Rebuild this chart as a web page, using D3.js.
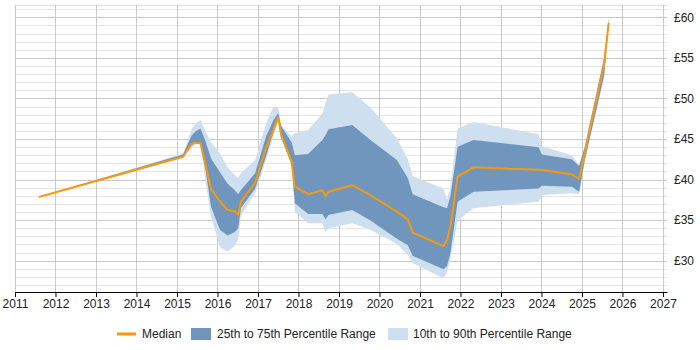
<!DOCTYPE html>
<html>
<head>
<meta charset="utf-8">
<script src="https://cdn.jsdelivr.net/npm/d3@7"></script>
<style>
  body { margin: 0; background: #fff; }
  svg { display: block; font-family: "Liberation Sans", Arial, sans-serif; }
</style>
</head>
<body>
<svg id="chart" width="700" height="350"></svg>
<script>
// decimal year of each sample
const dates = [2011.59, 2015.15, 2015.36, 2015.45, 2015.58, 2015.7, 2015.84, 2016.06, 2016.25, 2016.42,
  2016.51, 2016.58, 2016.93, 2017.2, 2017.38, 2017.5, 2017.57, 2017.83, 2017.91, 2018.24,
  2018.59, 2018.67, 2018.74, 2019.33, 2019.77, 2020.43, 2020.7, 2020.82, 2021.58, 2021.67,
  2021.75, 2021.93, 2022.32, 2023.93, 2024.01, 2024.75, 2024.93, 2025.07, 2025.55, 2025.66];
const p10 = [37.85, 42.8, 43.8, 44.3, 44.4, 40.0, 35.4, 31.7, 31.1, 31.8,
  32.6, 35.5, 38.3, 42.4, 45.3, 47.2, 45.1, 41.8, 36.04, 34.6,
  34.6, 33.57, 34.0, 34.6, 33.8, 32.1, 30.7, 29.7, 27.83, 28.6,
  30.2, 35.0, 36.46, 37.27, 38.1, 38.3, 38.2, 42.2, 52.6, 59.2];
const p25 = [37.85, 42.8, 44.2, 44.5, 44.47, 41.4, 36.65, 33.8, 33.1, 33.5,
  34.0, 36.5, 38.9, 42.9, 45.8, 47.5, 45.3, 41.9, 37.07, 35.75,
  35.75, 35.1, 35.63, 36.25, 35.0, 32.7, 31.9, 30.6, 28.94, 29.35,
  30.9, 37.27, 38.5, 38.9, 39.24, 39.1, 38.5, 42.4, 52.9, 59.2];
const median = [37.85, 42.82, 44.4, 44.55, 44.47, 41.9, 38.9, 37.3, 36.25, 36.1,
  35.65, 37.27, 39.61, 43.9, 46.1, 47.67, 45.5, 42.2, 39.12, 38.2,
  38.68, 37.97, 38.5, 39.3, 38.1, 36.04, 35.1, 33.45, 31.8, 32.55,
  34.2, 40.35, 41.51, 41.2, 41.18, 40.65, 40.07, 43.24, 54.3, 59.3];
const p75 = [37.85, 43.1, 45.4, 45.9, 46.3, 44.8, 42.6, 40.9, 39.5, 38.7,
  38.2, 38.7, 40.77, 45.3, 47.3, 48.2, 46.6, 44.6, 43.0, 43.15,
  44.88, 45.5, 46.2, 46.73, 44.9, 42.4, 40.15, 38.2, 36.6, 36.46,
  37.9, 44.05, 44.88, 43.98, 43.1, 42.5, 41.67, 44.0, 55.0, 59.8];
const p90 = [37.85, 43.2, 46.2, 46.9, 47.35, 46.0, 44.6, 43.2, 41.5, 40.6,
  40.2, 40.8, 42.4, 46.9, 48.98, 48.98, 46.7, 45.3, 45.7, 46.1,
  48.16, 49.4, 50.5, 50.75, 48.9, 45.1, 42.5, 40.4, 38.9, 37.5,
  39.0, 46.3, 47.1, 45.6, 44.1, 43.0, 41.8, 44.2, 55.3, 60.0];

const yearTicks = d3.range(2011, 2028);
const majorTicks = [30, 35, 40, 45, 50, 55, 60];
const minorTicks = d3.range(27, 62);

const rows = dates.map((d, i) => ({
  date: d, p10: p10[i], p25: p25[i], median: median[i], p75: p75[i], p90: p90[i]
}));

const svg = d3.select("#chart");
const plotLeft = 15, plotRight = 667, plotTop = 5, plotBottom = 292;

const x = d3.scaleLinear().domain([2011, 2027.1]).range([plotLeft, plotRight]);
const y = d3.scaleLinear().domain([26.14, 61.52]).range([plotBottom, plotTop]);

// grid
const grid = svg.append("g");
grid.selectAll(".minor").data(minorTicks).enter().append("line")
  .attr("x1", plotLeft).attr("x2", plotRight)
  .attr("y1", d => Math.round(y(d)) + 0.5).attr("y2", d => Math.round(y(d)) + 0.5)
  .attr("stroke", "#e6e6e6").attr("stroke-width", 1);
grid.append("line")
  .attr("x1", plotLeft).attr("x2", plotRight)
  .attr("y1", plotTop + 0.5).attr("y2", plotTop + 0.5)
  .attr("stroke", "#dcdcdc").attr("stroke-width", 1);
grid.selectAll(".major").data(majorTicks).enter().append("line")
  .attr("x1", plotLeft).attr("x2", plotRight)
  .attr("y1", d => Math.round(y(d)) + 0.5).attr("y2", d => Math.round(y(d)) + 0.5)
  .attr("stroke", "#c8c8c8").attr("stroke-width", 1);
grid.selectAll(".vert").data(yearTicks).enter().append("line")
  .attr("x1", d => Math.round(x(d)) + 0.5).attr("x2", d => Math.round(x(d)) + 0.5)
  .attr("y1", plotTop).attr("y2", plotBottom)
  .attr("stroke", "#c8c8c8").attr("stroke-width", 1);

// bands
const band = (lo, hi) => d3.area()
  .x(d => x(d.date)).y0(d => y(d[lo])).y1(d => y(d[hi]));

svg.append("path").datum(rows)
  .attr("d", band("p10", "p90"))
  .attr("fill", "#cedff0");
svg.append("path").datum(rows)
  .attr("d", band("p25", "p75"))
  .attr("fill", "#7096bd");

// median
svg.append("path").datum(rows)
  .attr("d", d3.line().x(d => x(d.date)).y(d => y(d.median)))
  .attr("fill", "none")
  .attr("stroke", "#f7990c")
  .attr("stroke-width", 2)
  .attr("stroke-linejoin", "round");

// x axis
const xAxis = svg.append("g")
  .attr("transform", `translate(0,${plotBottom})`)
  .call(d3.axisBottom(x).tickValues(yearTicks).tickFormat(d3.format("d")).tickSize(5).tickSizeOuter(0));
xAxis.select(".domain").attr("stroke", "#000");
xAxis.selectAll(".tick line").attr("stroke", "#000");
xAxis.selectAll("text").attr("fill", "#222").style("font-size", "12px").attr("y", 7);

// y labels on the right
svg.append("g").selectAll("text").data(majorTicks).enter().append("text")
  .attr("x", 674).attr("y", d => y(d)).attr("dy", "0.35em")
  .attr("fill", "#222").style("font-size", "12px")
  .text(d => "£" + d);

// legend
const legend = svg.append("g");
legend.append("line")
  .attr("x1", 117).attr("x2", 136).attr("y1", 334).attr("y2", 334)
  .attr("stroke", "#f7990c").attr("stroke-width", 3);
legend.append("text").attr("x", 142).attr("y", 334).attr("dy", "0.35em")
  .style("font-size", "12px").attr("fill", "#222").text("Median");
legend.append("rect").attr("x", 191).attr("y", 328).attr("width", 20).attr("height", 12)
  .attr("fill", "#7096bd");
legend.append("text").attr("x", 217).attr("y", 334).attr("dy", "0.35em")
  .style("font-size", "12px").attr("fill", "#222").text("25th to 75th Percentile Range");
legend.append("rect").attr("x", 388).attr("y", 328).attr("width", 20).attr("height", 12)
  .attr("fill", "#cedff0");
legend.append("text").attr("x", 413).attr("y", 334).attr("dy", "0.35em")
  .style("font-size", "12px").attr("fill", "#222").text("10th to 90th Percentile Range");
</script>
</body>
</html>
